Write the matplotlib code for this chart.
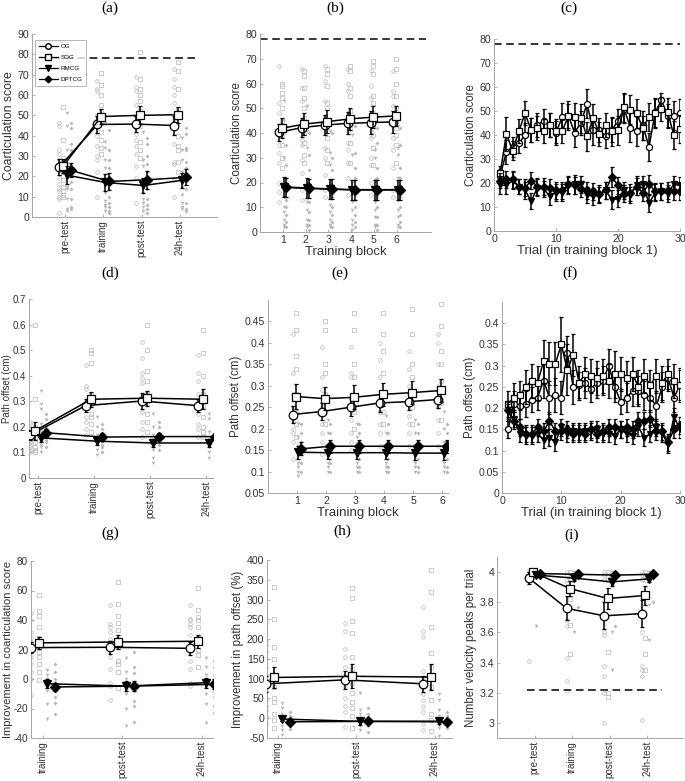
import matplotlib
matplotlib.use('Agg')
import matplotlib.pyplot as plt
import numpy as np
from matplotlib.lines import Line2D
from matplotlib.ticker import FormatStrFormatter

plt.rcParams['font.family'] = ['Liberation Sans', 'DejaVu Sans']
plt.rcParams['axes.unicode_minus'] = False

groups = ['OG', 'SOG', 'RMCG', 'DPTCG']
sessions4 = ['pre-test', 'training', 'post-test', '24h-test']
sessions3 = ['training', 'post-test', '24h-test']
blocks = [1, 2, 3, 4, 5, 6]
trials = list(range(1, 31))

# ---- (a) coarticulation score per session
a_mean = [[24.5, 45.5, 45.7, 45.0], [25.0, 49.4, 50.0, 50.3],
          [20.6, 17.0, 15.5, 18.0], [23.0, 17.5, 18.3, 19.5]]
a_err = [[4, 4, 4, 4.5], [3.5, 3.5, 4.5, 4], [4.5, 4, 3.5, 3.5], [3.5, 4, 4.5, 4]]
a_pts = [
    [[46, 45, 33, 31, 28, 25, 19, 16, 14, 13, 10, 9, 2],
     [67, 63, 62, 50, 48, 45, 40, 35, 30, 28, 22, 10],
     [69, 64, 62, 55, 49, 44, 41, 38, 35, 31, 25, 19, 7],
     [73, 68, 64, 60, 56, 48, 44, 36, 27, 26, 18, 10]],
    [[54, 38, 29, 27, 25, 22, 20, 18, 15, 13, 11, 10],
     [71, 65, 60, 55, 52, 50, 47, 42, 38, 34, 31],
     [81, 68, 63, 60, 57, 52, 50, 45, 37, 33, 29],
     [76, 72, 63, 53, 49, 40, 35, 33, 27, 22]],
    [[51, 45, 33, 28, 26, 20, 15, 14, 9, 4, 3],
     [46, 37, 34, 28, 24, 17, 12, 8, 6, 5, 3],
     [42, 28, 25, 18, 12, 9, 7, 5, 3],
     [39, 33, 28, 22, 15, 11, 7, 5, 4]],
    [[46, 44, 36, 33, 26, 21, 17, 14, 9, 5, 4],
     [43, 33, 28, 24, 18, 14, 10, 7, 5, 3, 2],
     [39, 36, 30, 26, 22, 14, 9, 6, 4, 2],
     [44, 41, 34, 33, 27, 24, 14, 7, 4, 3]],
]
a_ceiling = 78

# ---- (b) coarticulation score per training block
b_mean = [[40.3, 42.2, 43.2, 43.9, 44.2, 44.5], [41.9, 43.6, 44.6, 45.7, 46.4, 46.9],
          [18.2, 17.8, 17.4, 17.0, 17.0, 17.0], [18.0, 17.6, 17.3, 17.1, 17.1, 17.1]]
b_err = [[3.5, 4, 4, 4.5, 4.5, 4.5], [4, 4.5, 4.5, 4.5, 4.5, 4],
         [4, 4, 4, 4, 4, 4], [4, 4, 4, 4, 4, 4]]
b_pts = [
    [[67, 52, 48, 40, 35, 32, 28, 20, 16, 12], [66, 58, 53, 42, 37, 35, 29, 24, 17, 13],
     [67, 61, 53, 47, 43, 34, 30, 23, 17, 14], [66, 60, 57, 48, 41, 36, 33, 28, 22, 15],
     [65, 59, 54, 45, 41, 38, 30, 27, 20, 15], [65, 57, 55, 51, 43, 38, 33, 26, 17, 14]],
    [[60, 59, 56, 54, 50, 45, 39, 35, 30, 26], [65, 63, 58, 54, 50, 46, 40, 36, 31, 28],
     [66, 64, 59, 52, 50, 44, 38, 33, 28], [67, 65, 58, 55, 49, 45, 42, 36, 28],
     [69, 67, 64, 55, 52, 48, 43, 39, 34, 27], [70, 66, 60, 55, 50, 46, 42, 39, 35, 28]],
    [[53, 45, 30, 18, 14, 10, 8, 5, 3, 2], [51, 41, 34, 20, 15, 12, 9, 5, 3, 2],
     [41, 32, 27, 19, 15, 11, 8, 5, 3, 2], [44, 39, 31, 20, 15, 12, 9, 5, 3, 1],
     [44, 33, 30, 21, 17, 12, 9, 6, 3, 2], [43, 34, 31, 22, 17, 13, 9, 6, 3, 2]],
    [[43, 35, 27, 22, 17, 13, 10, 7, 4, 2], [40, 31, 25, 20, 16, 12, 8, 5, 3, 1],
     [40, 30, 25, 19, 14, 10, 7, 4, 2], [43, 32, 26, 22, 17, 13, 10, 7, 4, 2],
     [42, 36, 26, 22, 17, 14, 10, 6, 3, 1], [42, 35, 26, 22, 18, 14, 10, 7, 4, 2]],
]

# ---- (c) coarticulation score per trial (training block 1)
c_mean = [
    [23, 33, 35, 36.5, 40, 42, 44, 46, 44, 41, 47.5, 48, 41, 45, 53, 42, 42, 39.5, 42, 46,
     51, 43, 41.5, 44, 35, 49.5, 54.5, 48, 48, 49],
    [24, 40.5, 33.5, 41.5, 49, 42, 43, 41.5, 44, 41.5, 41.5, 48, 47.5, 47, 39.5, 47, 40.5, 44,
     41.5, 42, 51.5, 50.5, 49, 43, 47.5, 49, 51, 49.5, 40, 42.5],
    [19, 19, 21, 18.5, 17, 12.5, 18, 17.5, 14.5, 16, 16, 19, 19.5, 19.5, 15, 14.5, 15, 17,
     13, 13.5, 17, 15, 19, 19.5, 11.5, 16, 16.5, 15.5, 19.5, 19],
    [21, 21.5, 21.5, 18.5, 18, 21, 18.5, 18.5, 18, 17, 17, 19.5, 19, 17.5, 17, 16.5, 15.5, 17,
     22.5, 19, 15.5, 16, 18.5, 16, 19.5, 16.5, 16.5, 17, 16.5, 16.5],
]
c_err = [
    [3, 5, 4, 4, 5, 5, 5, 5, 5, 5, 6, 5, 6, 5, 6, 6, 5, 5, 5, 5, 6, 6, 6, 6, 6, 6, 3, 5, 6, 6],
    [3, 7, 4, 5, 5, 5, 5, 5, 5, 5, 5, 6, 6, 6, 6, 6, 5, 5, 6, 6, 6, 6, 6, 5, 6, 6, 5, 6, 6, 6],
    [3.5, 3.5, 3.5, 3, 3.5, 3.5, 3.5, 3.5, 3.5, 3.5, 3.5, 3.5, 4, 3.5, 3.5, 3.5, 3.5, 3.5,
     4, 3.5, 3.5, 3.5, 4, 3.5, 3.5, 3.5, 3.5, 3.5, 3.5, 3.5],
    [3, 3.5, 3.5, 3, 3.5, 3.5, 3.5, 3.5, 3.5, 3.5, 3.5, 3.5, 3.5, 3.5, 3.5, 3.5, 3.5, 3.5,
     4, 3.5, 3.5, 3.5, 3.5, 3.5, 4, 3.5, 3.5, 3.5, 3.5, 3.5],
]

# ---- (d) path offset per session
d_mean = [[0.167, 0.283, 0.301, 0.283], [0.185, 0.308, 0.312, 0.308],
          [0.157, 0.144, 0.137, 0.137], [0.177, 0.160, 0.162, 0.162]]
d_err = [[0.02, 0.025, 0.03, 0.025], [0.035, 0.03, 0.03, 0.04],
         [0.015, 0.015, 0.015, 0.015], [0.015, 0.015, 0.015, 0.015]]
d_pts = [
    [[0.22, 0.21, 0.19, 0.17, 0.15, 0.14, 0.13, 0.12, 0.11, 0.10],
     [0.44, 0.36, 0.35, 0.30, 0.28, 0.24, 0.22, 0.19, 0.17],
     [0.53, 0.47, 0.41, 0.39, 0.37, 0.32, 0.26, 0.22, 0.19, 0.16],
     [0.48, 0.41, 0.38, 0.33, 0.30, 0.25, 0.21, 0.19, 0.16]],
    [[0.60, 0.31, 0.20, 0.18, 0.16, 0.14, 0.12, 0.11, 0.10],
     [0.50, 0.49, 0.45, 0.33, 0.29, 0.25, 0.24, 0.21, 0.18],
     [0.60, 0.50, 0.42, 0.38, 0.33, 0.30, 0.25, 0.22, 0.18],
     [0.58, 0.49, 0.40, 0.33, 0.28, 0.24, 0.20, 0.18, 0.16]],
    [[0.34, 0.29, 0.27, 0.21, 0.18, 0.15, 0.13, 0.12, 0.10],
     [0.24, 0.20, 0.17, 0.15, 0.13, 0.11, 0.09],
     [0.25, 0.20, 0.17, 0.14, 0.11, 0.08, 0.06],
     [0.25, 0.23, 0.18, 0.15, 0.12, 0.10, 0.08]],
    [[0.25, 0.23, 0.20, 0.18, 0.16, 0.15, 0.14, 0.12],
     [0.21, 0.19, 0.17, 0.15, 0.13, 0.12, 0.10],
     [0.22, 0.20, 0.17, 0.15, 0.13, 0.11],
     [0.24, 0.22, 0.19, 0.16, 0.13, 0.10]],
]

# ---- (e) path offset per training block
e_mean = [[0.233, 0.240, 0.250, 0.260, 0.263, 0.268], [0.275, 0.270, 0.273, 0.280, 0.284, 0.289],
          [0.145, 0.144, 0.144, 0.144, 0.143, 0.143], [0.153, 0.159, 0.159, 0.159, 0.159, 0.159]]
e_err = [[0.02, 0.02, 0.02, 0.02, 0.02, 0.02], [0.03, 0.027, 0.028, 0.027, 0.027, 0.027],
         [0.015] * 6, [0.015] * 6]
e_pts = [
    [[0.42, 0.33, 0.28, 0.25, 0.22, 0.20, 0.19, 0.17, 0.13],
     [0.39, 0.32, 0.29, 0.25, 0.21, 0.19, 0.17, 0.14],
     [0.39, 0.33, 0.32, 0.26, 0.22, 0.19, 0.17, 0.15],
     [0.40, 0.36, 0.32, 0.27, 0.24, 0.21, 0.19, 0.16],
     [0.38, 0.34, 0.30, 0.26, 0.23, 0.21, 0.19, 0.16],
     [0.42, 0.40, 0.35, 0.30, 0.25, 0.22, 0.19, 0.16]],
    [[0.47, 0.43, 0.37, 0.34, 0.28, 0.24, 0.21, 0.18],
     [0.45, 0.43, 0.35, 0.33, 0.28, 0.24, 0.21],
     [0.47, 0.43, 0.35, 0.32, 0.27, 0.24, 0.20],
     [0.47, 0.42, 0.38, 0.33, 0.28, 0.24, 0.21],
     [0.48, 0.42, 0.35, 0.32, 0.28, 0.25, 0.21],
     [0.49, 0.44, 0.38, 0.35, 0.31, 0.26, 0.22]],
    [[0.21, 0.18, 0.16, 0.14, 0.12, 0.11, 0.10, 0.09],
     [0.22, 0.19, 0.16, 0.14, 0.12, 0.11, 0.10],
     [0.21, 0.18, 0.16, 0.14, 0.12, 0.11, 0.10],
     [0.23, 0.19, 0.16, 0.14, 0.12, 0.11, 0.10],
     [0.22, 0.19, 0.16, 0.14, 0.12, 0.11, 0.10],
     [0.24, 0.20, 0.17, 0.14, 0.12, 0.11, 0.10]],
    [[0.21, 0.19, 0.17, 0.15, 0.14, 0.12, 0.10],
     [0.21, 0.19, 0.17, 0.15, 0.13, 0.12, 0.10],
     [0.21, 0.19, 0.17, 0.15, 0.13, 0.11, 0.10],
     [0.21, 0.19, 0.17, 0.15, 0.13, 0.11, 0.10],
     [0.21, 0.19, 0.17, 0.15, 0.13, 0.11, 0.10],
     [0.21, 0.19, 0.17, 0.15, 0.13, 0.11, 0.10]],
]

# ---- (f) path offset per trial (training block 1)
f_mean = [
    [0.15, 0.21, 0.205, 0.21, 0.22, 0.225, 0.265, 0.225, 0.23, 0.225, 0.33, 0.25, 0.255, 0.26,
     0.245, 0.26, 0.265, 0.30, 0.25, 0.215, 0.225, 0.24, 0.24, 0.23, 0.225, 0.205, 0.25, 0.27,
     0.225, 0.255],
    [0.21, 0.225, 0.23, 0.25, 0.265, 0.26, 0.31, 0.305, 0.305, 0.35, 0.29, 0.325, 0.26, 0.28,
     0.275, 0.27, 0.275, 0.265, 0.28, 0.28, 0.27, 0.28, 0.25, 0.275, 0.255, 0.275, 0.26, 0.28,
     0.265, 0.255],
    [0.19, 0.175, 0.14, 0.135, 0.135, 0.14, 0.125, 0.13, 0.12, 0.155, 0.14, 0.145, 0.14, 0.145,
     0.145, 0.15, 0.14, 0.14, 0.135, 0.15, 0.14, 0.135, 0.155, 0.13, 0.14, 0.155, 0.14, 0.115,
     0.18, 0.15],
    [0.195, 0.17, 0.155, 0.14, 0.14, 0.155, 0.145, 0.17, 0.145, 0.145, 0.15, 0.14, 0.145, 0.14,
     0.15, 0.14, 0.145, 0.155, 0.155, 0.15, 0.155, 0.15, 0.17, 0.17, 0.175, 0.145, 0.145, 0.12,
     0.15, 0.16],
]
f_err = [
    [0.02, 0.03, 0.03, 0.03, 0.03, 0.03, 0.04, 0.04, 0.04, 0.04, 0.04, 0.04, 0.03, 0.035, 0.03,
     0.035, 0.035, 0.04, 0.035, 0.03, 0.035, 0.035, 0.035, 0.035, 0.035, 0.035, 0.035, 0.03,
     0.035, 0.035],
    [0.03, 0.035, 0.035, 0.04, 0.04, 0.04, 0.05, 0.05, 0.05, 0.065, 0.06, 0.05, 0.04, 0.04,
     0.04, 0.04, 0.04, 0.04, 0.055, 0.04, 0.04, 0.04, 0.04, 0.04, 0.035, 0.04, 0.04, 0.035,
     0.04, 0.04],
    [0.02] * 30,
    [0.02] * 30,
]

# ---- (g) improvement in coarticulation score
g_mean = [[21.3, 21.5, 20.8], [24.5, 25.1, 25.6], [-3.2, -4.8, -2.5], [-5.4, -4.8, -3.6]]
g_err = [[4, 4.5, 4.5], [4, 4.5, 4.5], [3, 3.5, 3.5], [3, 3.5, 3.5]]
g_pts = [
    [[45, 40, 32, 28, 25, 20, 15, 10, 5, 0, -11],
     [50, 37, 35, 32, 27, 25, 15, 7, -3, -5, -14],
     [50, 41, 40, 37, 35, 30, 22, 12, 7, -3, -5]],
    [[57, 46, 43, 35, 28, 22, 18, 15, 10, 5, -1],
     [66, 51, 43, 38, 33, 27, 22, 12, 10, 5, -6],
     [62, 47, 42, 40, 35, 28, 20, 16, 8]],
    [[6, 3, 0, -5, -8, -17, -27],
     [14, 5, 0, -5, -10, -20, -32],
     [14, 8, 3, -3, -10, -17, -30]],
    [[10, 5, 0, -3, -8, -12, -16, -24],
     [18, 8, 4, -2, -8, -15, -18, -29],
     [12, 8, 3, -2, -8, -12, -18, -23]],
]

# ---- (h) improvement in path offset (%)
h_mean = [[87, 97, 87], [103, 106, 104], [-2, -8, -7.6], [-9, -8, -9]]
h_err = [[20, 22, 20], [27, 30, 32], [6, 8, 8], [5, 6, 6]]
h_pts = [
    [[240, 195, 185, 170, 150, 130, 110, 90, 70, 45, 30, 20, 5, -15],
     [240, 220, 175, 155, 130, 100, 80, 50, 30, 15, -22],
     [280, 220, 205, 120, 100, 80, 60, 45, 30, 15, -15, -30]],
    [[332, 250, 180, 150, 110, 80, 50, 40, 10, -5, -25],
     [330, 305, 245, 215, 155, 125, 90, 65, 40, 25, 5, -25],
     [375, 320, 230, 165, 130, 100, 80, 45, 10, -5, -32]],
    [[38, 25, 10, 0, -10, -20, -30, -43],
     [65, 20, 10, 0, -10, -20, -30],
     [60, 45, 20, 5, -10, -25, -45]],
    [[15, 5, -5, -10, -20, -28],
     [25, 10, 0, -10, -20, -35],
     [15, 5, -5, -15, -25]],
]

# ---- (i) number of velocity peaks per trial
i_mean = [[3.96, 3.76, 3.71, 3.725], [4.0, 3.89, 3.825, 3.845],
          [3.98, 3.96, 3.935, 3.955], [3.99, 3.985, 3.98, 3.985]]
i_err = [[0.04, 0.08, 0.09, 0.09], [0.01, 0.05, 0.07, 0.06],
         [0.01, 0.02, 0.025, 0.02], [0.01, 0.015, 0.015, 0.015]]
i_pts = [
    [[4.0, 4.0, 3.98, 3.95, 3.41],
     [4.0, 3.98, 3.95, 3.93, 3.68, 3.64, 3.43, 3.28, 3.21],
     [4.0, 3.98, 3.95, 3.6, 3.58, 3.38, 3.31, 3.2, 3.0],
     [4.0, 3.98, 3.95, 3.86, 3.6, 3.38, 3.35, 3.31, 3.02]],
    [[4.0, 4.0, 3.98, 3.97],
     [4.0, 3.98, 3.95, 3.82, 3.65, 3.46],
     [4.0, 3.98, 3.95, 3.47, 3.2, 3.17],
     [4.0, 3.98, 3.95, 3.56, 3.46, 3.35]],
    [[4.0, 3.98, 3.64],
     [4.0, 3.97, 3.95, 3.6],
     [4.0, 3.97, 3.95, 3.6, 3.35],
     [4.0, 3.97, 3.78, 3.55]],
    [[4.0, 4.0, 3.98],
     [4.0, 3.98, 3.77],
     [4.0, 3.98, 3.64],
     [4.0, 3.98, 3.8]],
]
i_floor = 3.22

W, H = 685, 781
fig = plt.figure(figsize=(W / 100, H / 100), dpi=100)

GRAY = '#b8b8b8'
AXC = '#a6a6a6'
TXT = '#333333'
TICK_FS = 7.6
CAT_FS = 7.0
YLAB_FS = 8.3
XLAB_FS = 9.5
mean_style = [dict(marker='o', mfc='white'), dict(marker='s', mfc='white'),
              dict(marker='v', mfc='black'), dict(marker='D', mfc='black')]
pt_style = [dict(marker='o', mfc='none', mec=GRAY, ms=2.6, mew=0.5),
            dict(marker='s', mfc='none', mec=GRAY, ms=2.4, mew=0.5),
            dict(marker='v', mfc=GRAY, mec=GRAY, ms=2.6, mew=0),
            dict(marker='D', mfc=GRAY, mec=GRAY, ms=2.0, mew=0)]
offsets = [-0.15, -0.05, 0.05, 0.15]


def new_ax(l, r, t, b, tick_fs=TICK_FS):
    ax = fig.add_axes([l / W, 1 - b / H, (r - l) / W, (b - t) / H])
    for s in ['top', 'right']:
        ax.spines[s].set_visible(False)
    for s in ['left', 'bottom']:
        ax.spines[s].set_color(AXC)
        ax.spines[s].set_linewidth(0.7)
    ax.tick_params(direction='in', length=2.5, width=0.6, color=AXC,
                   labelsize=tick_fs, labelcolor=TXT, pad=2)
    ax.yaxis.set_major_formatter(FormatStrFormatter('%g'))
    return ax


def draw(ax, xs, means, errs, pts=None, offs=offsets, ms=6.2, cap=1.6):
    xs = np.asarray(xs, dtype=float)
    if pts is not None:
        for g in range(4):
            for xi, vals in zip(xs + offs[g], pts[g]):
                ax.plot([xi] * len(vals), vals, ls='none', zorder=1, **pt_style[g])
    for g in range(4):
        ax.errorbar(xs + offs[g], means[g], yerr=errs[g], color='black', lw=1.1,
                    elinewidth=1.1, capsize=cap, capthick=1.0, mec='black', mew=0.9,
                    ms=ms if g != 3 else ms * 0.85, zorder=3 + g, **mean_style[g])


def title(x, y, s):
    fig.text(x / W, 1 - y / H, s, ha='center', va='center', fontsize=11,
             family=['Liberation Serif', 'DejaVu Serif'])


def cat_ticks(ax, labels):
    ax.set_xticks(np.arange(1, len(labels) + 1))
    ax.set_xticklabels(labels, rotation=90, fontsize=CAT_FS)


def ylab(ax, s, fs=YLAB_FS, xpx=None):
    ax.set_ylabel(s, fontsize=fs, color=TXT, labelpad=2)
    if xpx is not None:
        pos = ax.get_position()
        ax.yaxis.set_label_coords((xpx / W - pos.x0) / pos.width, 0.5)


def xlab(ax, s):
    ax.set_xlabel(s, fontsize=XLAB_FS, color=TXT, labelpad=1)


# (a)
ax = new_ax(32, 217, 34, 217)
draw(ax, [1, 2, 3, 4], a_mean, a_err, a_pts)
ax.plot([0.7, 4.45], [a_ceiling, a_ceiling], color='black', ls=(0, (5, 3)), lw=1.1)
ax.set_xlim(0.14, 4.97)
ax.set_ylim(0, 90)
ax.set_yticks(np.arange(0, 91, 10))
cat_ticks(ax, sessions4)
ylab(ax, 'Coarticulation score', fs=8.8, xpx=15)
handles = [Line2D([], [], color='black', lw=0.9, mec='black', ms=4 if g != 3 else 3.4,
                  **mean_style[g]) for g in range(4)]
leg = ax.legend(handles, groups, loc='upper left', bbox_to_anchor=(0.0, 0.985),
                fontsize=4.5, handlelength=3, frameon=True, fancybox=False,
                borderpad=0.6, labelspacing=0.9, handletextpad=0.5)
leg.get_frame().set_edgecolor(AXC)
leg.get_frame().set_linewidth(0.7)
title(110, 8, '(a)')

# (b)
ax = new_ax(260, 431, 34, 232)
draw(ax, blocks, b_mean, b_err, b_pts)
ax.plot([0, 7.3], [a_ceiling, a_ceiling], color='black', ls=(0, (5, 3)), lw=1.1)
ax.set_xlim(0, 7.5)
ax.set_ylim(0, 80)
ax.set_xticks(blocks)
ax.set_yticks(np.arange(0, 81, 10))
xlab(ax, 'Training block')
ylab(ax, 'Coarticulation score')
title(335, 8, '(b)')

# (c)
ax = new_ax(494, 680, 39, 231)
draw(ax, trials, c_mean, c_err, offs=[0, 0, 0, 0], ms=4.4, cap=1.2)
ax.plot([0, 30], [a_ceiling, a_ceiling], color='black', ls=(0, (5, 3)), lw=1.1)
ax.set_xlim(0, 30)
ax.set_ylim(0, 80)
ax.set_xticks([0, 10, 20, 30])
ax.set_yticks(np.arange(0, 81, 10))
xlab(ax, 'Trial (in training block 1)')
ylab(ax, 'Coarticulation score')
title(569, 8, '(c)')

# (d)
ax = new_ax(29, 213, 299, 478, tick_fs=7.0)
draw(ax, [1, 2, 3, 4], d_mean, d_err, d_pts)
ax.set_xlim(0.84, 4.12)
ax.set_ylim(0, 0.7)
ax.set_yticks(np.arange(0, 0.71, 0.1))
cat_ticks(ax, sessions4)
ylab(ax, 'Path offset (cm)', fs=7.0, xpx=12)
title(110, 273, '(d)')

# (e)
ax = new_ax(268, 448, 300, 493)
draw(ax, blocks, e_mean, e_err, e_pts)
ax.set_xlim(0, 6.2)
ax.set_ylim(0.05, 0.5)
ax.set_xticks(blocks)
ax.set_yticks(np.arange(0.05, 0.46, 0.05))
xlab(ax, 'Training block')
ylab(ax, 'Path offset (cm)')
title(340, 273, '(e)')

# (f)
ax = new_ax(502, 680, 302, 493)
draw(ax, trials, f_mean, f_err, offs=[0, 0, 0, 0], ms=4.4, cap=1.2)
ax.set_xlim(0, 30)
ax.set_ylim(0, 0.45)
ax.set_xticks([0, 10, 20, 30])
ax.set_yticks(np.arange(0, 0.41, 0.05))
xlab(ax, 'Trial (in training block 1)')
ylab(ax, 'Path offset (cm)')
title(570, 273, '(f)')

# (g)
ax = new_ax(31, 213, 561, 738, tick_fs=7.2)
draw(ax, [1, 2, 3], g_mean, g_err, g_pts)
ax.set_xlim(0.85, 3.14)
ax.set_ylim(-40, 80)
ax.set_yticks(np.arange(-40, 81, 20))
cat_ticks(ax, sessions3)
ylab(ax, 'Improvement in coarticulation score', fs=8.0, xpx=13)
title(110, 533, '(g)')

# (h)
ax = new_ax(267, 452, 560, 738)
draw(ax, [1, 2, 3], h_mean, h_err, h_pts)
ax.set_xlim(0.86, 3.22)
ax.set_ylim(-50, 400)
ax.set_yticks(np.arange(-50, 401, 50))
cat_ticks(ax, sessions3)
ylab(ax, 'Improvement in path offset (%)')
title(342, 531, '(h)')

# (i)
ax = new_ax(497, 683, 557, 738)
draw(ax, [1, 2, 3, 4], i_mean, i_err, i_pts)
ax.plot([0.8, 4.4], [i_floor, i_floor], color='black', ls=(0, (5, 3)), lw=1.1)
ax.set_xlim(0, 4.95)
ax.set_ylim(2.9, 4.1)
ax.set_yticks([3, 3.2, 3.4, 3.6, 3.8, 4])
cat_ticks(ax, sessions4)
ylab(ax, 'Number velocity peaks per trial')
title(572, 535, '(i)')

fig.savefig('out.png', dpi=100)
